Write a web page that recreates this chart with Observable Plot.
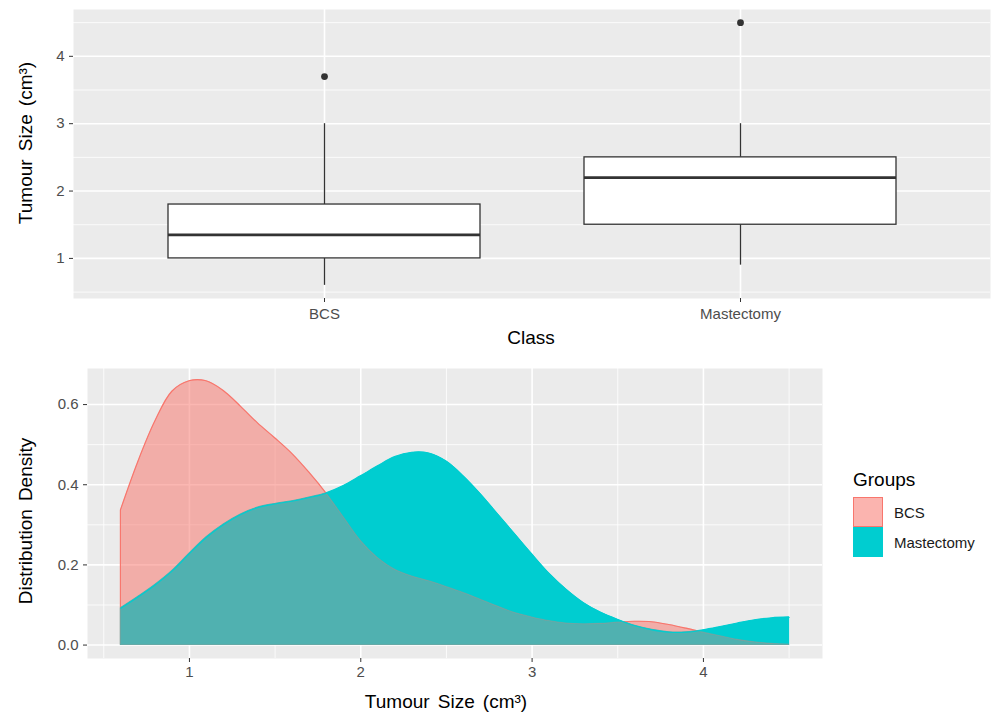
<!DOCTYPE html>
<html>
<head>
<meta charset="utf-8">
<script src="https://cdn.jsdelivr.net/npm/d3@7"></script>
<script src="https://cdn.jsdelivr.net/npm/@observablehq/plot@0.6"></script>
<style>
  html, body { margin: 0; padding: 0; background: #ffffff; }
  #wrap { position: relative; width: 992px; height: 715px; overflow: hidden; font-family: "Liberation Sans", Arial, sans-serif; }
  #wrap svg { position: absolute; left: 0; }
  .title { position: absolute; font-size: 19px; color: #000; white-space: nowrap; word-spacing: 0.15em; line-height: 1; }
  .rot { transform: translate(-50%, -50%) rotate(-90deg); }
  .ctr { transform: translate(-50%, -50%); }
  .legend-title { position: absolute; font-size: 19px; color: #000; line-height: 1; transform: translateY(-50%); }
  .legend-key { position: absolute; width: 28px; height: 28px; }
  .legend-label { position: absolute; font-size: 15px; color: #1a1a1a; line-height: 1; transform: translateY(-50%); white-space: nowrap; }
</style>
</head>
<body>
<div id="wrap"></div>
<script>
// ---------- Box plot data (Tumour size by class) ----------
const classes = ["BCS", "Mastectomy"];
const whiskerLow = [0.6, 0.9];
const quartile1 = [1.0, 1.5];
const medians = [1.35, 2.2];
const quartile3 = [1.8, 2.5];
const whiskerHigh = [3.0, 3.0];
const outlierClass = ["BCS", "Mastectomy"];
const outlierValue = [3.7, 4.5];
const boxYTicks = [1, 2, 3, 4];
const boxYMinor = [0.5, 1.5, 2.5, 3.5, 4.5];

// ---------- Density data ----------
const densityX = [0.6, 0.7, 0.8, 0.9, 1.0, 1.1, 1.2, 1.3, 1.4, 1.5,
                  1.6, 1.7, 1.8, 1.9, 2.0, 2.1, 2.2, 2.3, 2.4, 2.5,
                  2.6, 2.7, 2.8, 2.9, 3.0, 3.1, 3.2, 3.3, 3.4, 3.5,
                  3.6, 3.7, 3.8, 3.9, 4.0, 4.1, 4.2, 4.3, 4.4, 4.5];
const densityBCS = [0.336, 0.455, 0.557, 0.632, 0.658, 0.658, 0.634, 0.595, 0.553, 0.516,
                    0.477, 0.430, 0.378, 0.319, 0.260, 0.217, 0.188, 0.171, 0.159, 0.145,
                    0.130, 0.113, 0.096, 0.080, 0.069, 0.060, 0.054, 0.052, 0.053, 0.056,
                    0.058, 0.057, 0.050, 0.041, 0.031, 0.022, 0.013, 0.007, 0.003, 0.001];
const densityMastectomy = [0.092, 0.120, 0.150, 0.185, 0.228, 0.269, 0.301, 0.326, 0.343, 0.352,
                           0.359, 0.368, 0.379, 0.397, 0.421, 0.446, 0.469, 0.480, 0.478, 0.458,
                           0.421, 0.376, 0.326, 0.276, 0.226, 0.178, 0.138, 0.105, 0.081, 0.063,
                           0.048, 0.038, 0.032, 0.032, 0.037, 0.045, 0.054, 0.062, 0.067, 0.069];
const densityXTicks = [1, 2, 3, 4];
const densityXMinor = [0.5, 1.5, 2.5, 3.5, 4.5];
const densityYTicks = [0, 0.2, 0.4, 0.6];
const densityYMinor = [0.1, 0.3, 0.5];

const groups = ["BCS", "Mastectomy"];
const groupColors = ["#F8766D", "#00CDD0"];

// ---------- Build tables ----------
const boxes = classes.map((c, i) => ({
  cls: c, lo: whiskerLow[i], q1: quartile1[i], med: medians[i], q3: quartile3[i], hi: whiskerHigh[i]
}));
const outliers = outlierClass.map((c, i) => ({cls: c, v: outlierValue[i]}));
const dens = densityX.map((x, i) => ({x, bcs: densityBCS[i], mast: densityMastectomy[i]}));

const font = "'Liberation Sans', Arial, sans-serif";
const grid = "#FFFFFF";
const panel = "#EBEBEB";
const ink = "#333333";
const tickText = "#4D4D4D";
const curve = "catmull-rom";

const wrap = document.getElementById("wrap");

// ---------- Top: box plot ----------
const boxChart = Plot.plot({
  width: 992, height: 350,
  marginTop: 9, marginBottom: 52, marginLeft: 73, marginRight: 2,
  style: {fontFamily: font, fontSize: "15px", background: "transparent", overflow: "visible"},
  x: {type: "band", domain: classes, paddingInner: 0.25, paddingOuter: 0.225, axis: null, label: null},
  y: {domain: [0.405, 4.695], axis: null, label: null},
  marks: [
    Plot.frame({fill: panel, stroke: "none"}),
    Plot.ruleY(boxYMinor, {stroke: grid, strokeWidth: 0.8}),
    Plot.ruleY(boxYTicks, {stroke: grid, strokeWidth: 1.6}),
    Plot.ruleX(classes, {stroke: grid, strokeWidth: 1.6}),
    Plot.ruleX(boxes, {x: "cls", y1: "q3", y2: "hi", stroke: ink, strokeWidth: 1.3}),
    Plot.ruleX(boxes, {x: "cls", y1: "lo", y2: "q1", stroke: ink, strokeWidth: 1.3}),
    Plot.barY(boxes, {x: "cls", y1: "q1", y2: "q3", fill: "white", stroke: ink, strokeWidth: 1.3}),
    Plot.tickY(boxes, {x: "cls", y: "med", stroke: ink, strokeWidth: 2.7}),
    Plot.dot(outliers, {x: "cls", y: "v", r: 3.4, fill: ink, stroke: "none"}),
    Plot.axisY({ticks: boxYTicks, tickFormat: d3.format("d"), tickSize: 4, tickPadding: 5,
                stroke: ink, fill: tickText, label: null}),
    Plot.axisX({tickSize: 4, tickPadding: 6, stroke: ink, fill: tickText, label: null})
  ]
});
boxChart.style.top = "0px";
wrap.appendChild(boxChart);

// ---------- Bottom: density plot ----------
const densityChart = Plot.plot({
  width: 992, height: 365,
  marginTop: 18, marginBottom: 57, marginLeft: 87, marginRight: 170,
  style: {fontFamily: font, fontSize: "15px", background: "transparent", overflow: "visible"},
  x: {domain: [0.405, 4.695], axis: null, label: null},
  y: {domain: [-0.0335, 0.69], axis: null, label: null},
  marks: [
    Plot.frame({fill: panel, stroke: "none"}),
    Plot.ruleX(densityXMinor, {stroke: grid, strokeWidth: 0.8}),
    Plot.ruleY(densityYMinor, {stroke: grid, strokeWidth: 0.8}),
    Plot.ruleX(densityXTicks, {stroke: grid, strokeWidth: 1.6}),
    Plot.ruleY(densityYTicks, {stroke: grid, strokeWidth: 1.6}),
    Plot.areaY(dens, {x: "x", y: "bcs", curve, fill: groupColors[0], fillOpacity: 0.3,
                      stroke: groupColors[0], strokeWidth: 1.1}),
    Plot.areaY(dens, {x: "x", y: "mast", curve, fill: groupColors[1],
                      stroke: groupColors[1], strokeWidth: 1.1}),
    Plot.areaY(dens, {x: "x", y: "bcs", curve, fill: groupColors[0], fillOpacity: 0.32,
                      stroke: groupColors[0], strokeOpacity: 0.3, strokeWidth: 1.1}),
    Plot.lineY(dens, {x: "x", y: "mast", curve, stroke: groupColors[1], strokeWidth: 1.1}),
    Plot.axisY({ticks: densityYTicks, tickFormat: d3.format(".1f"), tickSize: 4, tickPadding: 5,
                stroke: ink, fill: tickText, label: null}),
    Plot.axisX({ticks: densityXTicks, tickFormat: d3.format("d"), tickSize: 4, tickPadding: 4,
                stroke: ink, fill: tickText, label: null})
  ]
});
densityChart.style.top = "350px";
wrap.appendChild(densityChart);

// ---------- Titles ----------
function addText(txt, cls, x, y) {
  const d = document.createElement("div");
  d.className = cls;
  d.textContent = txt;
  d.style.left = x + "px";
  d.style.top = y + "px";
  wrap.appendChild(d);
  return d;
}
addText("Tumour Size (cm³)", "title rot", 25, 143);
addText("Class", "title ctr", 531, 337);
addText("Distribution Density", "title rot", 25, 521);
addText("Tumour Size (cm³)", "title ctr", 446, 701);

// ---------- Legend ----------
addText("Groups", "legend-title", 853, 479);
const keyFills = ["rgba(248,118,109,0.55)", groupColors[1]];
groups.forEach((g, i) => {
  const k = document.createElement("div");
  k.className = "legend-key";
  k.style.left = "853px";
  k.style.top = (497 + i * 30) + "px";
  k.style.background = keyFills[i];
  k.style.border = "1px solid " + groupColors[i];
  wrap.appendChild(k);
  addText(g, "legend-label", 894, 512 + i * 30);
});
</script>
</body>
</html>
